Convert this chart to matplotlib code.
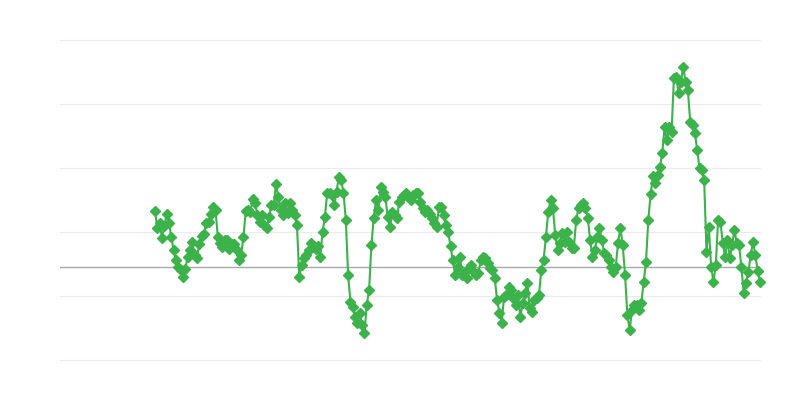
import numpy as np
import matplotlib
matplotlib.use("Agg")
import matplotlib.pyplot as plt

# series values
values = [
    46.6, 41.3, 42.8, 38.1, 41.9, 45.6, 42.8, 38.4, 34.4,
    31.3, 29.1, 28.1, 25.9, 28.4, 32.2, 34.4, 36.9, 32.8, 31.9,
    36.3, 38.8, 39.4, 42.8, 43.1, 45.6, 47.8, 46.9, 38.4, 36.6,
    35.3, 37.5, 37.5, 34.7, 36.3, 36.3, 34.7, 31.3, 32.8, 38.4,
    46.6, 46.9, 46.3, 50.3, 49.1, 45.3, 43.1, 45.3, 42.2, 41.3,
    44.7, 48.4, 48.4, 55.0, 50.9, 46.9, 45.3, 49.1, 45.9, 49.1,
    46.9, 45.3, 42.2, 25.9, 29.7, 31.9, 32.8, 34.4, 36.6, 35.3,
    34.7, 35.6, 32.2, 40.0, 44.7, 52.2, 52.2, 51.6, 48.4, 52.5,
    57.2, 56.3, 52.2, 43.8, 26.6, 18.1, 16.6, 13.4, 11.6, 14.7,
    10.9, 8.4, 17.2, 21.9, 35.9, 44.4, 50.0, 46.9, 54.1, 52.5,
    50.9, 44.7, 41.6, 46.3, 45.3, 44.4, 49.4, 50.9, 51.6, 52.2,
    51.0, 50.0, 51.6, 52.2, 52.2, 49.4, 47.5, 46.3, 46.9, 45.5, 44.4, 42.8,
    41.6, 47.8, 47.8, 45.3, 42.2, 40.0, 35.6, 31.3, 26.6, 29.1,
    32.2, 26.6, 27.2, 25.6, 28.8, 29.7, 27.5, 26.6, 27.2, 31.3, 32.2,
    31.9, 30.3, 28.8, 28.1, 25.6, 18.8, 14.7, 11.6, 19.7, 20.3,
    22.8, 21.9, 19.4, 17.2, 20.3, 13.4, 17.8, 20.9, 24.1, 16.3,
    15.0, 18.8, 19.4, 20.3, 28.1, 31.3, 38.4, 46.3, 50.0, 47.5,
    39.1, 34.4, 36.6, 39.7, 36.9, 40.0, 36.9, 35.0, 35.0, 43.8,
    47.5, 48.4, 49.1, 47.5, 44.4, 37.5, 32.2, 34.4, 38.4, 41.3,
    37.5, 33.4, 32.8, 31.3, 29.1, 27.5, 29.1, 36.6, 41.3, 35.9,
    26.6, 14.1, 9.4, 15.6, 17.2, 17.2, 15.6, 17.8, 24.4, 30.6,
    43.8, 51.9, 57.5, 55.3, 57.8, 60.3, 64.7, 72.8, 68.8, 72.8,
    71.3, 88.1, 88.4, 83.4, 86.9, 91.6, 86.9, 84.4, 74.4, 73.4,
    70.9, 65.6, 60.0, 59.4, 56.3, 33.8, 41.6, 29.1, 24.4, 29.7,
    43.8, 43.1, 36.6, 32.2, 37.5, 31.9, 35.9, 40.6,
    36.6, 35.9, 29.1, 20.9, 24.1, 27.5, 32.8, 36.9, 32.8, 27.8,
    24.4,
]
grid_levels = [0, 20, 40, 60, 80, 100]
baseline = 29.0

x = np.arange(len(values))

fig = plt.figure(figsize=(8, 4), dpi=100)
ax = fig.add_axes([0.075, 0.1, 0.875, 0.8])

for g in grid_levels:
    ax.axhline(g, color="#ebebeb", linewidth=0.8, zorder=0, clip_on=False)
ax.axhline(baseline, color="#a8a8a8", linewidth=1.0, zorder=1)

ax.plot(x, values, color="#3bb34a", linewidth=1.5, marker="D",
        markersize=5.5, zorder=3, clip_on=False)

# first point sits at ~13.5% of the width, last at the right edge
n = len(values) - 1
ax.set_xlim(-n * 95 / 605, n)
ax.set_ylim(0, 100)
ax.set_xticks([])
ax.set_yticks([])
for s in ax.spines.values():
    s.set_visible(False)

fig.savefig("out.png", dpi=100)
